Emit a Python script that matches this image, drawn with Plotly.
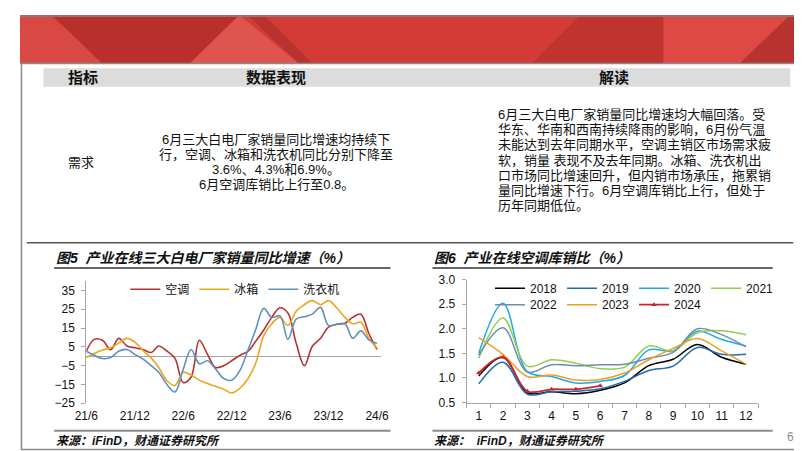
import pandas as pd
import plotly.graph_objects as go

W, H = 802, 451
FONT = "Liberation Sans, Noto Sans CJK SC"

# 图5 三大白电厂家销量同比增速（%），2021/6 - 2024/6
months = pd.date_range("2021-06-01", "2024-06-01", freq="MS")
ac_yoy = [2.7, 9, 8.5, 3.5, 9.5, 5.5, 4.5, 3.6, 2, 5.5, 2.7, -1, -14, -11, 8.5, 1,
          -6, -5, -2.4, 0.5, 2.7, 7.9, 14, 20.7, 25.8, 23, 7, -5, 5.3, 9.6, 15.5,
          17, 17.6, 20.7, 22.4, 12.1, 3.6]
fridge_yoy = [-0.7, 1.5, 3.3, 4.5, 7, 9.5, 7.5, 3, -1, -6, -13, -15.5, -8.5, -10,
              -12.7, -14.5, -16, -17.5, -19.5, -17, -11.8, -4, 11, 17.3, 20.7, 16.4,
              24, 27.5, 29.6, 27.5, 29.6, 25.8, 20.7, 17.3, 18.1, 9.6, 4.3]
washer_yoy = [2.7, 0.5, -1.2, -0.7, 2.7, 3.6, 1, -1.5, -5, -8.5, -15, -19, -7, 3.6,
              -4, -2.4, -6.7, -11.8, -12.7, -7.6, 3.6, 14, 25.5, 20.7, 21.5, 9, 19.8,
              21, 22.4, 26, 16.4, 17, 17.3, 9.6, 13.5, 8.7, 6.9]
yoy_names = ["空调", "冰箱", "洗衣机"]
yoy_colors = ["#B8312F", "#EDA520", "#5B93BE"]
tick_dates = pd.date_range("2021-06-01", "2024-06-01", freq="6MS")
tick_text = ["21/6", "21/12", "22/6", "22/12", "23/6", "23/12", "24/6"]

# 图6 空调库销比，按月
month_no = list(range(1, 13))
ratio_2018 = [1.04, 1.42, 0.70, 0.72, 0.68, 0.75, 0.90, 1.25, 1.38, 1.68, 1.42, 1.28]
ratio_2019 = [0.88, 1.32, 0.67, 0.72, 0.73, 0.78, 0.93, 1.15, 1.24, 1.62, 1.48, 1.48]
ratio_2020 = [1.50, 2.52, 1.13, 1.03, 0.90, 0.93, 1.05, 1.57, 1.55, 1.95, 1.78, 1.65]
ratio_2021 = [1.40, 2.22, 1.24, 1.37, 1.30, 1.19, 1.22, 1.65, 1.55, 1.92, 1.96, 1.88]
ratio_2022 = [1.46, 2.02, 1.12, 1.27, 1.25, 1.27, 1.28, 1.40, 1.52, 2.00, 1.88, 1.63]
ratio_2023 = [1.82, 1.48, 1.03, 1.06, 0.96, 0.97, 1.10, 1.37, 1.60, 1.80, 1.55, 1.28]
ratio_2024 = [1.10, 1.42, 0.73, 0.77, 0.77, 0.84]
year_names = ["2018", "2019", "2020", "2021", "2022", "2023", "2024"]
year_colors = ["#000000", "#1F6DB3", "#1FA9E6", "#92CD4F", "#6C8DB2", "#EE9F22", "#C7282E"]

middle_lines = ["6月三大白电厂家销量同比增速均持续下",
                "行，空调、冰箱和洗衣机同比分别下降至",
                "3.6%、4.3%和6.9%。",
                "6月空调库销比上行至0.8。"]
right_lines = ["6月三大白电厂家销量同比增速均大幅回落。受",
               "华东、华南和西南持续降雨的影响，6月份气温",
               "未能达到去年同期水平，空调主销区市场需求疲",
               "软，销量 表现不及去年同期。冰箱、洗衣机出",
               "口市场同比增速回升，但内销市场承压，拖累销",
               "量同比增速下行。6月空调库销比上行，但处于",
               "历年同期低位。"]


def px(x):
    return x / W


def py(y):
    return 1 - y / H


def poly(pts, color):
    path = "M " + " L ".join(f"{px(x):.4f},{py(y):.4f}" for x, y in pts) + " Z"
    return dict(type="path", xref="paper", yref="paper", path=path,
                fillcolor=color, line_width=0)


def hline(x0, x1, y, color, width):
    return dict(type="line", xref="paper", yref="paper", x0=px(x0), x1=px(x1),
                y0=py(y), y1=py(y), line=dict(color=color, width=width))


def text(x, y, s, size=13, anchor="center", color="#111111"):
    return dict(x=px(x), y=py(y), xref="paper", yref="paper", text=s, showarrow=False,
                xanchor=anchor, yanchor="middle", font=dict(family=FONT, size=size, color=color))


fig = go.Figure()

for name, vals, color in zip(yoy_names, [ac_yoy, fridge_yoy, washer_yoy], yoy_colors):
    fig.add_trace(go.Scatter(x=months, y=vals, name=name, mode="lines",
                             line=dict(color=color, width=1.6, shape="spline"),
                             xaxis="x", yaxis="y", legend="legend"))

ratios = [ratio_2018, ratio_2019, ratio_2020, ratio_2021, ratio_2022, ratio_2023, ratio_2024]
for k, (name, vals, color) in enumerate(zip(year_names, ratios, year_colors)):
    is_last = name == "2024"
    fig.add_trace(go.Scatter(x=month_no[:len(vals)], y=vals, name=name,
                             mode="lines+markers" if is_last else "lines",
                             marker=dict(symbol="triangle-up", size=5, color=color),
                             line=dict(color=color, width=1.8 if is_last else 1.5, shape="spline"),
                             xaxis="x2", yaxis="y2",
                             legend="legend2" if k < 4 else "legend3"))

shapes = [
    # 顶部红色横幅
    dict(type="rect", xref="paper", yref="paper", x0=0, x1=1, y0=py(50), y1=1,
         fillcolor="#D33B36", line_width=0),
    poly([(0, 0), (30, 0), (90, 50), (0, 50)], "#DA4843"),
    poly([(33, 0), (225, 0), (174, 50), (84, 50)], "#B82F2C"),
    poly([(225, 0), (286, 50), (174, 50)], "#E0544E"),
    poly([(233, 0), (250, 0), (300, 50), (286, 50)], "#B9322F"),
    poly([(575, 0), (660, 0), (660, 50), (525, 50)], "#C0332F"),
    poly([(660, 0), (790, 0), (738, 50), (660, 50)], "#DE4944"),
    poly([(790, 0), (802, 0), (802, 50), (738, 50)], "#B8332F"),
    dict(type="rect", xref="paper", yref="paper", x0=0, x1=1, y0=py(2), y1=1,
         fillcolor="#9A7371", line_width=0),
    # 边框
    dict(type="rect", xref="paper", yref="paper", x0=px(1.5), x1=px(800.5),
         y0=py(448.5), y1=py(50), line=dict(color="#8A8A8A", width=1.5)),
    # 表头
    dict(type="rect", xref="paper", yref="paper", x0=px(24), x1=px(790),
         y0=py(74), y1=py(55), fillcolor="#DCDCDC", line_width=0),
    hline(7, 793, 235, "#555555", 1.5),
    hline(35, 380, 261, "#333333", 1.5),
    hline(423, 772, 261, "#333333", 1.5),
    hline(35, 380, 429, "#8C8C8C", 2),
    hline(423, 772, 429, "#8C8C8C", 2),
]

annotations = [
    text(65, 64, "<b>指标</b>", 15),
    text(263, 64, "<b>数据表现</b>", 15),
    text(609, 64, "<b>解读</b>", 15),
    text(63, 152, "需求", 13),
    text(35, 251, "<b><i>图5  产业在线三大白电厂家销量同比增速（%）</i></b>", 14, "left"),
    text(423, 251, "<b><i>图6  产业在线空调库销比（%）</i></b>", 14, "left"),
    text(35, 440, "<b><i>来源：iFinD，财通证券研究所</i></b>", 12, "left"),
    text(423, 440, "<b><i>来源：  iFinD，财通证券研究所</i></b>", 12, "left"),
    text(790, 436, "6", 12, "center", "#8C8C8C"),
]
for k, line in enumerate(middle_lines):
    annotations.append(text(263, 128.3 + 15.6 * k, line, 13))
for k, line in enumerate(right_lines):
    annotations.append(text(488, 102.7 + 15.7 * k, line, 13, "left"))

axis_grey = "#A6A6A6"
tickfont = dict(family=FONT, size=12, color="#111111")
legend_font = dict(family=FONT, size=12, color="#111111")

fig.update_layout(
    width=W, height=H,
    margin=dict(l=0, r=0, t=0, b=0),
    paper_bgcolor="white", plot_bgcolor="rgba(0,0,0,0)",
    shapes=shapes, annotations=annotations,
    xaxis=dict(domain=[px(68), px(370)], type="date",
               range=["2021-06-01", "2024-06-15"],
               tickvals=tick_dates, ticktext=tick_text, ticks="",
               showline=False, showgrid=False, zeroline=False,
               tickfont=tickfont, ticklabelstandoff=4, anchor="y"),
    yaxis=dict(domain=[py(400.7), py(275)], range=[-25, 39.8],
               tickvals=[-25, -15, -5, 5, 15, 25, 35],
               showline=True, linecolor=axis_grey, linewidth=1,
               ticks="outside", ticklen=4, tickcolor=axis_grey,
               zeroline=True, zerolinecolor=axis_grey, zerolinewidth=1,
               showgrid=False, tickfont=tickfont, ticklabelstandoff=4, anchor="x"),
    xaxis2=dict(domain=[px(458), px(757)], range=[0.5, 12.5],
                tickvals=month_no, ticks="",
                minor=dict(tick0=0.5, dtick=1, ticks="outside", ticklen=4,
                           tickcolor=axis_grey),
                showline=True, linecolor=axis_grey, linewidth=1,
                showgrid=False, zeroline=False,
                tickfont=tickfont, ticklabelstandoff=2, anchor="y2"),
    yaxis2=dict(domain=[py(400), py(273)], range=[0.5, 3.0], dtick=0.5,
                tickformat=".1f", showline=True, linecolor=axis_grey, linewidth=1,
                ticks="outside", ticklen=4, tickcolor=axis_grey,
                showgrid=False, zeroline=False,
                tickfont=tickfont, ticklabelstandoff=4, anchor="x2"),
    legend=dict(x=px(108), y=py(268), xanchor="left", yanchor="top",
                orientation="h", bgcolor="rgba(0,0,0,0)", itemwidth=30,
                font=legend_font),
    legend2=dict(x=px(482), y=py(267), xanchor="left", yanchor="top",
                 orientation="h", bgcolor="rgba(0,0,0,0)", itemwidth=30,
                 font=legend_font),
    legend3=dict(x=px(482), y=py(284), xanchor="left", yanchor="top",
                 orientation="h", bgcolor="rgba(0,0,0,0)", itemwidth=30,
                 font=legend_font),
)

fig.write_html("out.html")
